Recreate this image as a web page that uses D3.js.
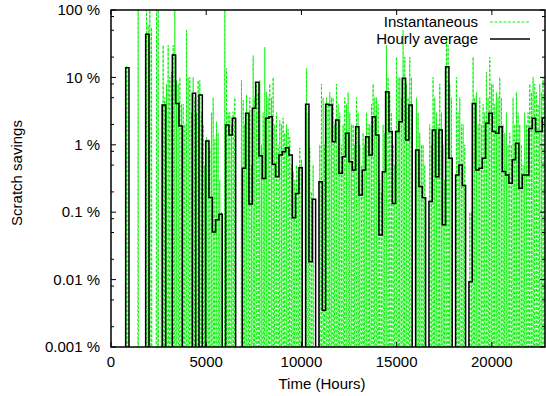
<!DOCTYPE html>
<html><head><meta charset="utf-8">
<script src="https://cdn.jsdelivr.net/npm/d3@7"></script>
<style>
html,body{margin:0;padding:0;background:#fff;}
text{font-family:"Liberation Sans",Arial,Helvetica,sans-serif;fill:#000;}
</style></head>
<body><svg id="chart" width="546" height="396"></svg>
<script>
// ---- data (percent) ----
const xTickValues = [0, 5000, 10000, 15000, 20000];
const yTickValues = [0.001, 0.01, 0.1, 1, 10, 100];
const yTickLabels = ["0.001 %", "0.01 %", "0.1 %", "1 %", "10 %", "100 %"];
const seriesNames = ["Instantaneous", "Hourly average"];
const xMax = 22790;
const binHours = 175;      // width of one averaging step
const firstBinHour = 70;   // start of first step
// averaged value per step (0 = nothing saved)
const hourlyAverage = [
 0,0,0,0,13.9,0,0,0,0,0, 43.6,0,0,0,0,3.9,0,0,21.5,4.1,
 1.9,0,0,0,5.8,0,5.5,0,1.14,0.165, 0.051,0.077,0.093,0,1.97,1.40,2.47,0,0,0.447,
 2.93,0.132,3.48,8.45,0.69,0.317,2.47,2.61,0.513,0.337, 0.706,0.79,0.905,0.706,0.083,0.19,0.457,0,3.98,0.0184,
 0.155,0,0.284,0.0035,3.98,3.9,1.11,2.33,0.377,0.667, 1.48,0.562,0.423,1.86,0.18,0.423,1.32,0.706,2.61,1.40,
 0.046,0.399,6.14,1.57,0.135,1.57,2.2,9.7,1.18,3.9, 0,0.838,0.24,0.164,0,0.144,1.66,0.337,1.66,0.065,
 14.4,0.63,0,0.356,0.5,0.25,0,0.0093,4.1,0.423, 0.447,0.63,2.09,2.93,1.57,1.48,1.86,0.4,0.356,0.27,
 0.6,1.05,0.226,0.356,0.356,1.75,2.47,1.57,1.57,2.5, 2.5,2.0
];
// instantaneous peaks, two samples per step
const instantaneous = [
 0,0, 0,0, 0,0, 0,0, 15,13, 0,0, 0,0, 0,100, 0,0, 0,0,
 100,60, 100,55, 0,0, 100,100, 0,4, 30,5, 8,30, 10,12, 30,100, 9,8,
 10,4, 4,2, 50,10, 10,3, 10,5, 3,9, 9,3, 2,0.5, 1.3,1.2, 0.9,3,
 5,1.2, 2.2,1.5, 0.3,0.1, 0,100, 13.6,3, 3,2, 3.1,5, 0,0, 0,9, 4.6,2,
 5.5,3, 5,0.5, 21,5, 8,6, 9,1, 3,28, 6,5, 8,5, 10,2, 3,1,
 2.3,2, 2.5,1.5, 2,1.7, 1.3,0.5, 0.4,0.3, 0.5,0.4, 0.9,0.6, 0,0, 13.6,3, 0.9,0.2,
 0.5,0, 0,0, 1,8, 5,1, 5,4, 6,5, 5,2, 8,4, 3,1, 2,5,
 4,6, 3,2, 2,1, 5,3, 1,0.5, 1.5,1, 3,2, 2,4, 8,5, 5,4,
 0.3,0.2, 2,1.5, 30,10, 6,3, 1,0.5, 20,10, 10,5, 50,20, 8,5, 20,10,
 0,0, 5,3, 1.5,1, 1,0.5, 0,0, 2,1, 10,5, 3,2, 8,3, 1,0.3,
 40,30, 8,5, 0,0, 10,3, 5,2, 2,1, 0,0, 0.1,0.1, 20,5, 6,2,
 5,2, 4,3, 12,5, 20,8, 8,4, 6,5, 10,5, 2,1.5, 3,1, 1.5,1,
 5,2, 6,3, 2,1, 0.5,3, 2,3, 8,6, 10,8, 6,4, 8,6, 10,6,
 9,5, 5,3
];

// ---- layout ----
const W = 546, H = 396;
const m = {left: 111, right: 1, top: 10, bottom: 49};
const svg = d3.select("#chart");
const x = d3.scaleLinear().domain([0, xMax]).range([m.left, W - m.right]);
const y = d3.scaleLog().domain([0.001, 100]).range([H - m.bottom, m.top]);
const floorY = H - m.bottom + 6;
const yv = v => v > 0 ? y(v) : floorY;

svg.append("clipPath").attr("id","plotclip").append("rect")
  .attr("x", m.left).attr("y", m.top).attr("width", W - m.right - m.left).attr("height", H - m.bottom - m.top);

const plot = svg.append("g").attr("clip-path","url(#plotclip)");

// instantaneous: each sample is a narrow spike up from the floor
const instStep = binHours / 2;
const instPts = [];
instantaneous.forEach((v, j) => {
  const t = firstBinHour + j * instStep;
  instPts.push([t + instStep * 0.3, 0]);
  instPts.push([t + instStep * 0.5, v]);
  instPts.push([t + instStep * 0.7, 0]);
});
plot.append("path")
  .attr("d", d3.line().x(d => x(d[0])).y(d => yv(d[1]))(instPts))
  .attr("fill","none").attr("stroke","#00f000").attr("stroke-width",0.9)
  .attr("stroke-dasharray","3,1.5");

// hourly average as steps
const avgPts = hourlyAverage.map((v, i) => [firstBinHour + i * binHours, v]);
avgPts.push([firstBinHour + hourlyAverage.length * binHours, hourlyAverage[hourlyAverage.length - 1]]);
plot.append("path")
  .attr("d", d3.line().curve(d3.curveStepAfter).x(d => x(d[0])).y(d => yv(d[1]))(avgPts))
  .attr("fill","none").attr("stroke","#000").attr("stroke-width",1.5);

// ---- frame and ticks ----
const x0 = m.left, x1 = W - m.right, y0 = m.top, y1 = H - m.bottom;
const ax = svg.append("g").attr("stroke","#000").attr("stroke-width",1);
const minor = [];
for (let d = -3; d < 2; d++) [2,5,8].forEach(k => minor.push(k * Math.pow(10, d)));
minor.forEach(v => {
  ax.append("line").attr("x1",x0).attr("x2",x0+3).attr("y1",y(v)).attr("y2",y(v));
  ax.append("line").attr("x1",x1).attr("x2",x1-3).attr("y1",y(v)).attr("y2",y(v));
});
yTickValues.forEach(v => {
  ax.append("line").attr("x1",x0).attr("x2",x0+5).attr("y1",y(v)).attr("y2",y(v));
  ax.append("line").attr("x1",x1).attr("x2",x1-5).attr("y1",y(v)).attr("y2",y(v));
});
xTickValues.forEach(v => {
  ax.append("line").attr("x1",x(v)).attr("x2",x(v)).attr("y1",y1).attr("y2",y1-5);
  ax.append("line").attr("x1",x(v)).attr("x2",x(v)).attr("y1",y0).attr("y2",y0+5);
});
svg.append("rect").attr("x",x0).attr("y",y0).attr("width",x1-x0).attr("height",y1-y0)
  .attr("fill","none").attr("stroke","#000").attr("stroke-width",1.5);

// tick labels
svg.append("g").selectAll("text").data(yTickValues).join("text")
  .attr("x", 100).attr("y", d => y(d)).attr("dy","0.35em")
  .attr("text-anchor","end").attr("font-size",15)
  .text((d,i) => yTickLabels[i]);
svg.append("g").selectAll("text").data(xTickValues).join("text")
  .attr("x", d => x(d)).attr("y", 367).attr("text-anchor","middle").attr("font-size",15)
  .text(d => String(d));

// axis titles
svg.append("text").attr("x", (x0 + x1) / 2 - 6).attr("y", 389).attr("text-anchor","middle")
  .attr("font-size",15).text("Time (Hours)");
svg.append("text").attr("transform","translate(22,173) rotate(-90)").attr("text-anchor","middle")
  .attr("font-size",15).text("Scratch savings");

// legend
const lg = svg.append("g");
[[22, "#00f000", "3,1.5", 0.9], [39, "#000", null, 1.5]].forEach((s, i) => {
  lg.append("text").attr("x", 478).attr("y", s[0]).attr("dy","0.35em")
    .attr("text-anchor","end").attr("font-size",15).text(seriesNames[i]);
  const l = lg.append("line").attr("x1", 490).attr("x2", 530).attr("y1", s[0]).attr("y2", s[0])
    .attr("stroke", s[1]).attr("stroke-width", s[3]);
  if (s[2]) l.attr("stroke-dasharray", s[2]);
});
</script></body></html>
